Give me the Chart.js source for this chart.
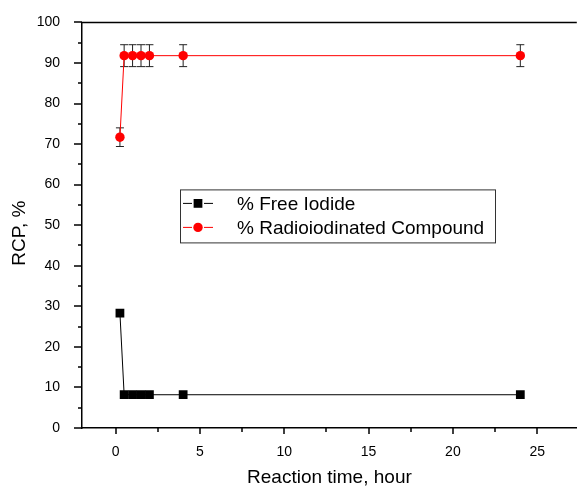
<!DOCTYPE html>
<html>
<head>
<meta charset="utf-8">
<script src="https://cdn.jsdelivr.net/npm/chart.js@4.4.1/dist/chart.umd.min.js"></script>
<style>
  html, body { margin: 0; padding: 0; background: #fff; }
  #wrap { position: relative; width: 583px; height: 488px; }
</style>
</head>
<body>
<div id="wrap"><canvas id="rcpChart"></canvas></div>
<script>
// data
const reactionTimes = [0.25, 0.5, 1, 1.5, 2, 4, 24];
const freeIodide = [28.3, 8.2, 8.2, 8.2, 8.2, 8.2, 8.2];
const radioCompound = [71.7, 91.8, 91.8, 91.8, 91.8, 91.8, 91.8];
const radioError = [2.3, 2.7, 2.7, 2.7, 2.7, 2.7, 2.7];

const seriesLabels = ['% Free Iodide', '% Radioiodinated Compound'];
const xTickLabels = [0, 5, 10, 15, 20, 25];
const yTickLabels = [0, 10, 20, 30, 40, 50, 60, 70, 80, 90, 100];
const xMinorTicks = [2.5, 7.5, 12.5, 17.5, 22.5];
const yMinorTicks = [5, 15, 25, 35, 45, 55, 65, 75, 85, 95];

Chart.defaults.font.family = "'Liberation Sans', Arial, sans-serif";
Chart.defaults.color = '#000';

// error bars behind the red points
const errorBars = {
  id: 'errorBars',
  beforeDatasetsDraw(chart) {
    const ctx = chart.ctx;
    const meta = chart.getDatasetMeta(1);
    const y = chart.scales.y;
    ctx.save();
    ctx.strokeStyle = '#222';
    ctx.lineWidth = 1;
    meta.data.forEach((pt, i) => {
      const v = radioCompound[i], e = radioError[i];
      const top = y.getPixelForValue(v + e);
      const bot = y.getPixelForValue(v - e);
      ctx.beginPath();
      ctx.moveTo(pt.x, top); ctx.lineTo(pt.x, bot);
      ctx.moveTo(pt.x - 4, top); ctx.lineTo(pt.x + 4, top);
      ctx.moveTo(pt.x - 4, bot); ctx.lineTo(pt.x + 4, bot);
      ctx.stroke();
    });
    ctx.restore();
  }
};

// outside ticks (major + minor) and the top frame line
const axisTicks = {
  id: 'axisTicks',
  afterDraw(chart) {
    const ctx = chart.ctx;
    const area = chart.chartArea;
    const xs = chart.scales.x, ys = chart.scales.y;
    ctx.save();
    ctx.strokeStyle = '#000';
    ctx.lineWidth = 1.5;
    ctx.beginPath();
    ctx.moveTo(area.left, area.top); ctx.lineTo(area.right, area.top);
    ctx.stroke();
    ctx.beginPath();
    xTickLabels.forEach(v => {
      const px = Math.round(xs.getPixelForValue(v));
      ctx.moveTo(px, area.bottom); ctx.lineTo(px, area.bottom + 6);
    });
    xMinorTicks.forEach(v => {
      const px = Math.round(xs.getPixelForValue(v));
      ctx.moveTo(px, area.bottom); ctx.lineTo(px, area.bottom + 4);
    });
    yTickLabels.forEach(v => {
      const py = Math.round(ys.getPixelForValue(v));
      ctx.moveTo(area.left, py); ctx.lineTo(area.left - 8, py);
    });
    yMinorTicks.forEach(v => {
      const py = Math.round(ys.getPixelForValue(v));
      ctx.moveTo(area.left, py); ctx.lineTo(area.left - 4, py);
    });
    ctx.stroke();
    ctx.restore();
  }
};

// boxed legend inside the plot
const boxLegend = {
  id: 'boxLegend',
  afterDraw(chart) {
    const ctx = chart.ctx;
    const area = chart.chartArea;
    const left = area.left + 98, top = area.top + 167;
    const w = 315, h = 53;
    ctx.save();
    ctx.strokeStyle = '#333';
    ctx.lineWidth = 1;
    ctx.strokeRect(left + 0.5, top + 0.5, w, h);
    chart.data.datasets.forEach((ds, i) => {
      const cy = top + 14 + i * 24;
      ctx.strokeStyle = ds.borderColor;
      ctx.lineWidth = 1;
      ctx.beginPath();
      ctx.moveTo(left + 3, cy); ctx.lineTo(left + 12, cy);
      ctx.moveTo(left + 24, cy); ctx.lineTo(left + 33, cy);
      ctx.stroke();
      ctx.fillStyle = ds.pointBackgroundColor;
      ctx.strokeStyle = ds.pointBorderColor;
      Chart.helpers.drawPoint(ctx, {
        pointStyle: ds.pointStyle, radius: ds.pointRadius, rotation: 0, borderWidth: 0
      }, left + 18, cy);
      ctx.fillStyle = '#000';
      ctx.font = "19px 'Liberation Sans', Arial, sans-serif";
      ctx.textBaseline = 'middle';
      ctx.fillText(ds.label, left + 57, cy + 1);
    });
    ctx.restore();
  }
};

const ctx = document.getElementById('rcpChart').getContext('2d');
const rcpChart = new Chart(ctx, {
  type: 'line',
  data: {
    datasets: [{
      label: seriesLabels[0],
      data: reactionTimes.map((t, i) => ({ x: t, y: freeIodide[i] })),
      borderColor: '#000',
      borderWidth: 1,
      pointStyle: 'rect',
      pointRadius: 6.2,
      pointBackgroundColor: '#000',
      pointBorderColor: '#000',
      pointBorderWidth: 0,
      tension: 0
    }, {
      label: seriesLabels[1],
      data: reactionTimes.map((t, i) => ({ x: t, y: radioCompound[i] })),
      borderColor: '#ff0000',
      borderWidth: 1,
      pointStyle: 'circle',
      pointRadius: 4.7,
      pointBackgroundColor: '#ff0000',
      pointBorderColor: '#ff0000',
      pointBorderWidth: 0,
      tension: 0
    }]
  },
  options: {
    responsive: true,
    maintainAspectRatio: false,
    animation: false,
    layout: { padding: { top: 22, right: 0, bottom: 0, left: 0 } },
    scales: {
      x: {
        type: 'linear',
        min: -2,
        max: 27.35,
        afterBuildTicks: s => { s.ticks = xTickLabels.map(v => ({ value: v })); },
        afterFit: s => { s.height = 60; },
        grid: { display: false },
        border: { display: true, color: '#000', width: 1.5 },
        ticks: { font: { size: 14 }, padding: 8, maxRotation: 0 },
        title: {
          display: true,
          text: 'Reaction time, hour',
          font: { size: 19 },
          padding: { top: 0, bottom: -1 }
        }
      },
      y: {
        min: 0,
        max: 100,
        afterBuildTicks: s => { s.ticks = yTickLabels.map(v => ({ value: v })); },
        afterFit: s => { s.width = 82; },
        grid: { display: false },
        border: { display: true, color: '#000', width: 1.5 },
        ticks: { font: { size: 14 }, padding: 14 },
        title: {
          display: true,
          // trailing spaces nudge the rotated title down, as in the figure
          text: 'RCP, %   ',
          font: { size: 19 },
          padding: { top: 8, bottom: 0 }
        }
      }
    },
    plugins: {
      legend: { display: false },
      tooltip: { enabled: false }
    }
  },
  plugins: [errorBars, axisTicks, boxLegend]
});
</script>
</body>
</html>
